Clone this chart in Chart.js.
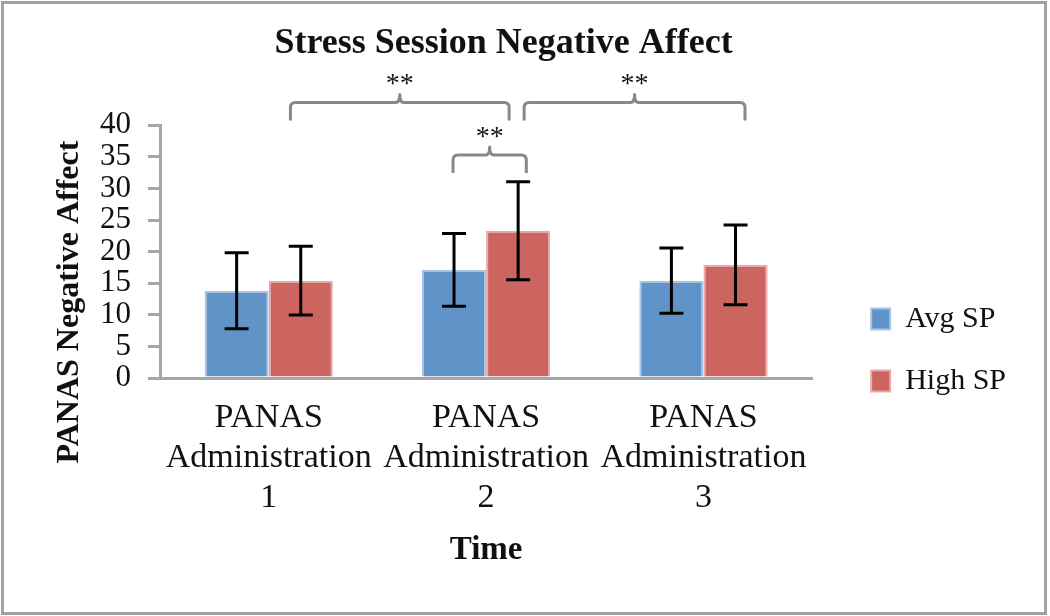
<!DOCTYPE html>
<html>
<head>
<meta charset="utf-8">
<script src="https://cdn.jsdelivr.net/npm/chart.js@4.4.0/dist/chart.umd.min.js"></script>
<style>
  body { margin: 0; background: #fff; }
  #wrap { position: relative; width: 1050px; height: 616px; }
  #frame { position: absolute; left: 1px; top: 1px; width: 1046px; height: 614px; box-sizing: border-box; border: 3px solid #a3a3a3; pointer-events: none; }
</style>
</head>
<body>
<div id="wrap">
  <canvas id="chart" width="1050" height="616"></canvas>
  <div id="frame"></div>
</div>
<script>
// --- data ---
const categories = [
  ["PANAS", "Administration", "1"],
  ["PANAS", "Administration", "2"],
  ["PANAS", "Administration", "3"],
];
const seriesNames = ["Avg SP", "High SP"];
const avgSP = [13.8, 17.1, 15.4];
const highSP = [15.4, 23.3, 17.9];
const avgSD = [6.0, 5.75, 5.15];   // error bar half length
const highSD = [5.45, 7.75, 6.3];
const yTicks = [0, 5, 10, 15, 20, 25, 30, 35, 40];

// significance brackets (x in category units, y in data units)
const bracketFrom = [0.1, 1.175, 0.848];
const bracketTo = [1.106, 2.191, 1.185];
const bracketLevel = [43.6, 43.6, 35.3];
const bracketLabel = ["**", "**", "**"];

const serif = "'Liberation Serif', 'Times New Roman', serif";
Chart.defaults.font.family = serif;
Chart.defaults.color = "#111";

// error bars, brackets, y title
const annotations = {
  id: "annotations",
  afterDatasetsDraw(chart) {
    const { ctx, scales: { x, y } } = chart;
    ctx.save();
    ctx.strokeStyle = "#000";
    ctx.lineWidth = 3;
    [avgSD, highSD].forEach((sd, di) => {
      const values = chart.data.datasets[di].data;
      chart.getDatasetMeta(di).data.forEach((bar, i) => {
        const top = y.getPixelForValue(values[i] + sd[i]);
        const bot = y.getPixelForValue(values[i] - sd[i]);
        ctx.beginPath();
        ctx.moveTo(bar.x, top);
        ctx.lineTo(bar.x, bot);
        ctx.moveTo(bar.x - 12, top);
        ctx.lineTo(bar.x + 12, top);
        ctx.moveTo(bar.x - 12, bot);
        ctx.lineTo(bar.x + 12, bot);
        ctx.stroke();
      });
    });

    bracketFrom.forEach((from, i) => {
      const x0 = x.getPixelForValue(from);
      const x1 = x.getPixelForValue(bracketTo[i]);
      const yy = y.getPixelForValue(bracketLevel[i]);
      const xm = (x0 + x1) / 2;
      ctx.strokeStyle = "#888";
      ctx.lineWidth = 3;
      ctx.lineJoin = "round";
      ctx.beginPath();
      ctx.moveTo(x0, yy + 18);
      ctx.lineTo(x0, yy + 5);
      ctx.quadraticCurveTo(x0, yy, x0 + 5, yy);
      ctx.lineTo(xm - 4, yy);
      ctx.quadraticCurveTo(xm, yy, xm, yy - 8);
      ctx.quadraticCurveTo(xm, yy, xm + 4, yy);
      ctx.lineTo(x1 - 5, yy);
      ctx.quadraticCurveTo(x1, yy, x1, yy + 5);
      ctx.lineTo(x1, yy + 18);
      ctx.stroke();
      ctx.fillStyle = "#111";
      ctx.font = "28px " + serif;
      ctx.textAlign = "center";
      ctx.textBaseline = "alphabetic";
      ctx.fillText(bracketLabel[i], xm, yy - 10);
    });
    ctx.restore();
  },
  afterDraw(chart) {
    const ctx = chart.ctx;
    ctx.save();
    ctx.translate(70, 302);
    ctx.rotate(-Math.PI / 2);
    ctx.font = "bold 32px " + serif;
    ctx.fillStyle = "#111";
    ctx.textAlign = "center";
    ctx.textBaseline = "middle";
    ctx.fillText("PANAS Negative Affect", 0, 0);
    ctx.restore();
  },
};

new Chart(document.getElementById("chart"), {
  type: "bar",
  data: {
    labels: categories,
    datasets: [
      {
        label: seriesNames[0],
        data: avgSP,
        backgroundColor: "#6094c8",
        borderColor: "#a9c4e2",
        borderWidth: 2,
        borderSkipped: "bottom",
      },
      {
        label: seriesNames[1],
        data: highSP,
        backgroundColor: "#cc6560",
        borderColor: "#e8aaa8",
        borderWidth: 2,
        borderSkipped: "bottom",
      },
    ],
  },
  options: {
    responsive: false,
    animation: false,
    devicePixelRatio: 1,
    categoryPercentage: 0.59,
    barPercentage: 1,
    layout: { padding: { left: 0, right: 43, top: 0, bottom: 10 } },
    plugins: {
      title: {
        display: true,
        text: "Stress Session Negative Affect",
        font: { size: 36, weight: "bold" },
        color: "#111",
        padding: { top: 22, bottom: 60 },
      },
      legend: {
        position: "right",
        align: "start",
        // empty title only pushes the items down
        title: { display: true, text: "", padding: { top: 257.6, bottom: 0 } },
        labels: {
          font: { size: 30 },
          boxWidth: 19,
          boxHeight: 21,
          padding: 32,
          color: "#111",
        },
      },
      tooltip: { enabled: false },
    },
    scales: {
      x: {
        afterFit: (s) => {
          s.height = 228;
        },
        grid: { display: false, drawTicks: false },
        border: { color: "#a6a6a6", width: 3 },
        ticks: {
          font: { size: 34, lineHeight: 1.18 },
          padding: 20,
          autoSkip: false,
          maxRotation: 0,
          color: "#111",
        },
        title: {
          display: true,
          text: "Time",
          font: { size: 33, weight: "bold" },
          color: "#111",
          padding: { top: 12, bottom: 36 },
        },
      },
      y: {
        min: 0,
        max: 40,
        afterBuildTicks: (s) => {
          s.ticks = yTicks.map((v) => ({ value: v }));
        },
        afterFit: (s) => {
          s.width = 160;
        },
        grid: { drawOnChartArea: false, color: "#a6a6a6", lineWidth: 3, tickLength: 12 },
        border: { color: "#a6a6a6", width: 3 },
        ticks: { font: { size: 31, lineHeight: 1 }, padding: 17, autoSkip: false, color: "#111" },
      },
      // empty spacer between plot and legend
      pad: {
        position: "right",
        display: true,
        grid: { display: false },
        border: { display: false },
        ticks: { display: false },
        afterFit: (s) => {
          s.width = 27;
        },
      },
    },
  },
  plugins: [annotations],
});
</script>
</body>
</html>
